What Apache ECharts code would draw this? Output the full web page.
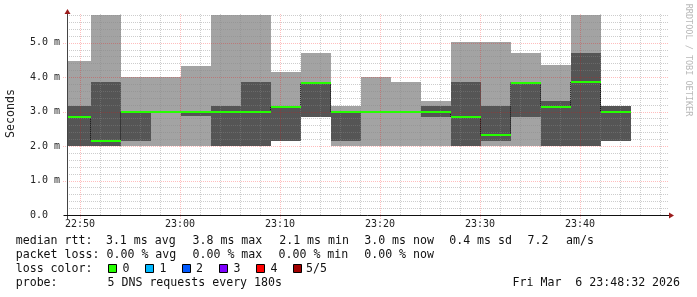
<!DOCTYPE html>
<html><head><meta charset="utf-8">
<script src="https://cdn.jsdelivr.net/npm/echarts@6/dist/echarts.min.js"></script>
<style>html,body{margin:0;padding:0;background:#fff}#c{width:697px;height:297px}</style>
</head><body><div id="c"></div>
<script>
// ---- data ----
const slotEnd = ['22:51:06','22:54:06','22:57:06','23:00:06','23:03:06','23:06:06','23:09:06',
  '23:12:06','23:15:06','23:18:06','23:21:06','23:24:06','23:27:06','23:30:06','23:33:06',
  '23:36:06','23:39:06','23:42:06','23:45:06'];
const outerLow  = [2.00,2.00,2.00,2.00,2.00,2.00,2.00,2.16,2.85,2.00,2.00,2.00,2.00,2.00,2.00,2.00,2.00,2.00,2.16];
const outerHigh = [4.47,5.80,4.01,4.01,4.32,5.80,5.80,4.16,4.71,3.16,4.01,3.86,3.31,5.02,5.02,4.71,4.35,5.80,3.16];
const innerLow  = [2.00,2.00,2.15,2.97,2.86,2.00,2.00,2.16,2.85,2.16,2.97,2.97,2.85,2.00,2.16,2.85,2.00,2.00,2.16];
const innerHigh = [3.16,3.86,3.00,3.02,3.00,3.16,3.86,3.16,3.86,3.00,3.02,3.02,3.16,3.86,3.16,3.86,3.31,4.71,3.16];
const medianRtt = [2.85,2.16,2.99,2.99,2.99,2.99,2.99,3.14,3.84,2.99,2.99,2.99,2.99,2.85,2.31,3.84,3.14,3.86,2.99];
const xTickLabels = ['22:50','23:00','23:10','23:20','23:30','23:40'];
const yTickValues = [0,1,2,3,4,5];
const yTickLabels = ['0.0','1.0 m','2.0 m','3.0 m','4.0 m','5.0 m'];
const viewStart = '22:48:42', viewEnd = '23:48:54';
const stepMinutes = 3;
const yMax = 5.89;
const lossLevels = ['0','1','2','3','4','5/5'];
const lossColors = ['#26ff00','#00b8ff','#0059ff','#7e00ff','#ff0000','#a10000'];
const rttStats = ['3.1','3.8','2.1','3.0','0.4','7.2'];
const lossStats = ['0.00','0.00','0.00','0.00'];
const probeText = '5 DNS requests every 180s';
const stampText = 'Fri Mar  6 23:48:32 2026';

// ---- helpers ----
function toMin(s){const p=s.split(':').map(Number);return p[0]*60+p[1]+(p[2]||0)/60-(22*60+50);}
const xMin = toMin(viewStart), xMax = toMin(viewEnd);
const xTickValues = xTickLabels.map(toMin);
const MONO = "'DejaVu Sans Mono', monospace";

const bandData = slotEnd.map((t,i)=>[toMin(t)-stepMinutes, toMin(t), outerLow[i], outerHigh[i], innerLow[i], innerHigh[i]]);
const medData = slotEnd.map((t,i)=>[toMin(t)-stepMinutes, toMin(t), medianRtt[i], i+1<medianRtt.length?medianRtt[i+1]:medianRtt[i]]);

const vGrid=[]; for(let v=Math.ceil(xMin/2)*2; v<=xMax; v+=2) vGrid.push(v);
const hGrid=[]; for(let k=1; k*0.2<=yMax+1e-9; k++) hGrid.push(+(k*0.2).toFixed(1));

const MINOR='rgba(135,135,135,0.42)', MAJOR='rgba(255,0,0,0.26)';

const chart = echarts.init(document.getElementById('c'), null, {renderer:'canvas'});
chart.setOption({
  animation:false,
  backgroundColor:'#fff',
  grid:{left:67, right:28, top:12, bottom:82, containLabel:false, outerBoundsMode:'none'},
  xAxis:{type:'value', min:xMin, max:xMax, splitLine:{show:false}, axisLine:{show:false}, axisTick:{show:false},
    axisLabel:{customValues:xTickValues, formatter:(v)=>{const i=xTickValues.findIndex(x=>Math.abs(x-v)<1e-6);return i>=0?xTickLabels[i]:'';},
      fontFamily:MONO, fontSize:10, color:'#222', margin:4}},
  yAxis:{type:'value', min:0, max:yMax, splitLine:{show:false}, axisLine:{show:false}, axisTick:{show:false},
    axisLabel:{customValues:yTickValues, formatter:(v)=>{const i=yTickValues.findIndex(x=>Math.abs(x-v)<1e-6);return i>=0?yTickLabels[i]:'';},
      fontFamily:MONO, fontSize:10, color:'#222', align:'left', margin:37},
    name:'Seconds', nameLocation:'middle', nameRotate:90, nameGap:50,
    nameTextStyle:{fontFamily:MONO, fontSize:11.6, color:'#222'}},
  series:[
    {type:'custom', z:1, data:bandData, encode:{x:[0,1], y:[2,3,4,5]},
      renderItem:(params, api)=>{
        const x0=Math.max(api.value(0),xMin), x1=api.value(1);
        const a0=api.coord([x0,api.value(3)]), a1=api.coord([x1,api.value(2)]);
        const b0=api.coord([x0,api.value(5)]), b1=api.coord([x1,api.value(4)]);
        const R=Math.round;
        return {type:'group', children:[
          {type:'rect', shape:{x:R(a0[0]), y:R(a0[1]), width:R(a1[0])-R(a0[0]), height:R(a1[1])-R(a0[1])}, style:{fill:'#a3a3a3'}},
          {type:'rect', shape:{x:R(b0[0]), y:R(b0[1]), width:R(b1[0])-R(b0[0]), height:Math.max(1,R(b1[1])-R(b0[1]))}, style:{fill:'#555555'}}
        ]};
      }},
    {type:'custom', z:2, data:[[0,0]], encode:{x:0,y:1}, silent:true,
      renderItem:(params, api)=>{
        const ch=[];
        vGrid.forEach(v=>{
          const major = Math.abs(v%10)<1e-6;
          const p0=api.coord([v,0]), p1=api.coord([v,yMax]);
          const x=Math.round(p0[0])+0.5;
          ch.push({type:'line', shape:{x1:x,y1:Math.round(p0[1])+(major?4:0),x2:x,y2:Math.round(p1[1])+1},
            style:{stroke:major?MAJOR:MINOR, lineWidth:1, lineDash:[1,1]}});
        });
        hGrid.forEach(v=>{
          const major = Math.abs(v-Math.round(v))<1e-6;
          const p0=api.coord([xMin,v]), p1=api.coord([xMax,v]);
          const y=Math.round(p0[1])+0.5;
          ch.push({type:'line', shape:{x1:Math.round(p0[0])-(major?4:0),y1:y,x2:Math.round(p1[0]),y2:y},
            style:{stroke:major?MAJOR:MINOR, lineWidth:1, lineDash:[1,1]}});
        });
        return {type:'group', children:ch};
      }},
    {type:'custom', z:3, data:medData, encode:{x:[0,1], y:[2,3]},
      renderItem:(params, api)=>{
        if (params.dataIndex>=medianRtt.length-1) return null;
        const a=api.coord([api.value(1),api.value(2)]), b=api.coord([api.value(1),api.value(3)]);
        const x=Math.round(a[0])-0.5;
        return {type:'line', shape:{x1:x,y1:a[1],x2:x,y2:b[1]}, style:{stroke:'#111', lineWidth:1, lineDash:[1,1]}};
      }},
    {type:'custom', z:4, data:medData, encode:{x:[0,1], y:[2,3]},
      renderItem:(params, api)=>{
        const x0=Math.max(api.value(0),xMin);
        const a=api.coord([x0,api.value(2)]), b=api.coord([api.value(1),api.value(2)]);
        const y=Math.round(a[1]);
        return {type:'line', shape:{x1:Math.round(a[0]),y1:y,x2:Math.round(b[0]),y2:y}, style:{stroke:lossColors[0], lineWidth:2}};
      }}
  ]
});

// ---- axes, arrows, legend (decoration) ----
const o = chart.convertToPixel({gridIndex:0},[xMin,0]);
const e = chart.convertToPixel({gridIndex:0},[xMax,yMax]);
const ox=Math.round(o[0])+0.5, oy=Math.round(o[1])+0.5, ex=Math.round(e[0]), ey=Math.round(e[1]);
const ARROW='#9b1c1c';
const g=[];
g.push({type:'line', z:10, shape:{x1:ox,y1:oy+4,x2:ox,y2:ey-2}, style:{stroke:'#444', lineWidth:1}});
g.push({type:'line', z:10, shape:{x1:ox-4,y1:oy,x2:ex+2,y2:oy}, style:{stroke:'#111', lineWidth:1}});
g.push({type:'polygon', z:11, shape:{points:[[ox-3,ey+2],[ox+3,ey+2],[ox,ey-3]]}, style:{fill:ARROW}});
g.push({type:'polygon', z:11, shape:{points:[[ex,oy-3],[ex,oy+3],[ex+5,oy]]}, style:{fill:ARROW}});
g.push({type:'text', z:10, x:688, y:60, rotation:-Math.PI/2,
  style:{text:'RRDTOOL / TOBI OETIKER', fontFamily:MONO, fontSize:8.5, fill:'#b8b8b8', align:'center', verticalAlign:'middle'}});

function txt(x,y,s){g.push({type:'text', z:10, style:{x:x,y:y,text:s,fontFamily:MONO,fontSize:11.6,fill:'#111',align:'left',verticalAlign:'middle'}});}
const r1=241, r2=255, r3=269, r4=283;
txt(15.7,r1,'median rtt:');
txt(105.9,r1,rttStats[0]+' ms avg');
txt(192.5,r1,rttStats[1]+' ms max');
txt(279.2,r1,rttStats[2]+' ms min');
txt(364.2,r1,rttStats[3]+' ms now');
txt(449.2,r1,rttStats[4]+' ms sd');
txt(527.5,r1,rttStats[5]);
txt(566,r1,'am/s');
txt(15.7,r2,'packet loss:');
txt(106.5,r2,lossStats[0]+' % avg');
txt(192.5,r2,lossStats[1]+' % max');
txt(278.5,r2,lossStats[2]+' % min');
txt(364.2,r2,lossStats[3]+' % now');
txt(15.7,r3,'loss color:');
const boxX=[108.5,145.5,182.5,219.5,256.5,293.5];
const labX=[122.5,159.5,196,233.5,270.5,306];
lossLevels.forEach((l,i)=>{
  g.push({type:'rect', z:10, shape:{x:boxX[i],y:r3-4.5,width:8,height:8}, style:{fill:lossColors[i], stroke:'#000', lineWidth:1}});
  txt(labX[i],r3,l);
});
txt(15.7,r4,'probe:');
txt(107.5,r4,probeText);
txt(512.5,r4,stampText);
chart.setOption({graphic:g});
</script></body></html>
